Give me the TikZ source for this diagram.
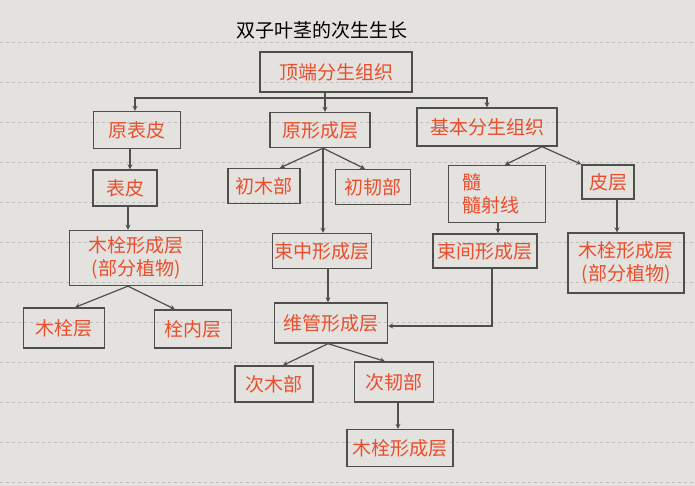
\documentclass[tikz,border=0pt]{standalone}
\usepackage{fontspec}
\setmainfont{Noto Sans CJK SC}
\usepackage{xcolor}
\usepackage{tikz}
\usetikzlibrary{arrows,positioning}
\definecolor{penred}{RGB}{234,78,44}
\definecolor{pencil}{RGB}{78,78,76}
\definecolor{paper}{RGB}{228,226,222}
\definecolor{ruling}{RGB}{192,190,186}

\tikzset{
    cell/.style={draw=pencil, line width=1.3pt, text=penred, inner sep=0pt,
        font=\fontsize{19}{23}\selectfont},
    arr/.style={draw=pencil, line width=1.2pt, ->, >=stealth},
    ruled/.style={draw=ruling, line width=0.6pt, dash pattern=on 3pt off 3pt}
}

\begin{document}
\begin{tikzpicture}[x=1pt, y=-1pt]
    \useasboundingbox (0,0) rectangle (695,486);
    \fill[paper] (0,0) rectangle (695,486);
    % ruled paper
    \foreach \y in {42,82,...,482}
        \draw[ruled] (0,\y) -- (695,\y);

    \node[font=\fontsize{19}{23}\selectfont, text=black] at (322,30) (title) {双子叶茎的次生生长};

    % first row
    \node[cell, minimum width=152, minimum height=40] at (336,72) (apex) {顶端分生组织};
    \node[cell, minimum width=87, minimum height=37] at (137,130) (protoderm) {原表皮};
    \node[cell, minimum width=100, minimum height=35] at (320,130) (procamb) {原形成层};
    \node[cell, minimum width=140, minimum height=38] at (487,127) (ground) {基本分生组织};

    % second row
    \node[cell, minimum width=64, minimum height=36] at (125,188) (epidermis) {表皮};
    \node[cell, minimum width=72, minimum height=35] at (264,186) (xylemA) {初木部};
    \node[cell, minimum width=75, minimum height=35] at (373,187) (phloemA) {初韧部};
    \node[cell, minimum width=97, minimum height=57, align=left, text width=70] at (497,194) (pith) {髓\\髓射线};
    \node[cell, minimum width=52, minimum height=34] at (608,182) (cortex) {皮层};

    % third row
    \node[cell, minimum width=133, minimum height=55, align=center] at (136,258) (phellogenL) {木栓形成层\\(部分植物)};
    \node[cell, minimum width=99, minimum height=35] at (322,251) (fascic) {束中形成层};
    \node[cell, minimum width=104, minimum height=34] at (485,251) (interfasc) {束间形成层};
    \node[cell, minimum width=116, minimum height=60, align=center] at (626,263) (phellogenR) {木栓形成层\\(部分植物)};

    % fourth row
    \node[cell, minimum width=81, minimum height=40] at (64,328) (cork) {木栓层};
    \node[cell, minimum width=77, minimum height=38] at (193,329) (phelloderm) {栓内层};
    \node[cell, minimum width=113, minimum height=40] at (331,323) (vascular) {维管形成层};

    % bottom rows
    \node[cell, minimum width=78, minimum height=36] at (274,384) (xylemB) {次木部};
    \node[cell, minimum width=79, minimum height=40] at (394,382) (phloemB) {次韧部};
    \node[cell, minimum width=106, minimum height=37] at (400,448) (phellogenB) {木栓形成层};

    % connectors
    \coordinate (fork) at (325,98);
    \draw[arr] (fork |- apex.south) -- (fork |- procamb.north);
    \draw[arr] (fork) -| ([xshift=-2]protoderm.north);
    \draw[arr] (fork) -| (ground.north);

    \draw[arr] ([xshift=5]epidermis.north |- protoderm.south) -- ([xshift=5]epidermis.north);
    \draw[arr] ([xshift=3]epidermis.south) -- ([xshift=3]epidermis.south |- phellogenL.north);
    \draw[arr] ([xshift=-8]phellogenL.south) -- ([xshift=11]cork.north);
    \draw[arr] ([xshift=-8]phellogenL.south) -- ([xshift=-18]phelloderm.north);

    \draw[arr] ([xshift=3]procamb.south) -- ([xshift=16]xylemA.north);
    \draw[arr] ([xshift=3]procamb.south) -- ([xshift=-8]phloemA.north);
    \draw[arr] ([xshift=3]procamb.south) -- ([xshift=1]fascic.north);

    \draw[arr] ([xshift=55]ground.south) -- ([xshift=8]pith.north);
    \draw[arr] ([xshift=55]ground.south) -- (cortex.north west);
    \draw[arr] ([xshift=1]pith.south) -- ([xshift=13]interfasc.north);
    \draw[arr] ([xshift=9]cortex.south) -- ([xshift=9]cortex.south |- phellogenR.north);

    \draw[arr] ([xshift=6]fascic.south) -- ([xshift=-3]vascular.north);
    \draw[arr] ([xshift=7]interfasc.south) |- ([yshift=-3]vascular.east);

    \draw[arr] ([xshift=-3]vascular.south) -- ([xshift=9]xylemB.north);
    \draw[arr] ([xshift=-3]vascular.south) -- ([xshift=-9]phloemB.north);
    \draw[arr] ([xshift=4]phloemB.south) -- ([xshift=-2]phellogenB.north);
\end{tikzpicture}
\end{document}
